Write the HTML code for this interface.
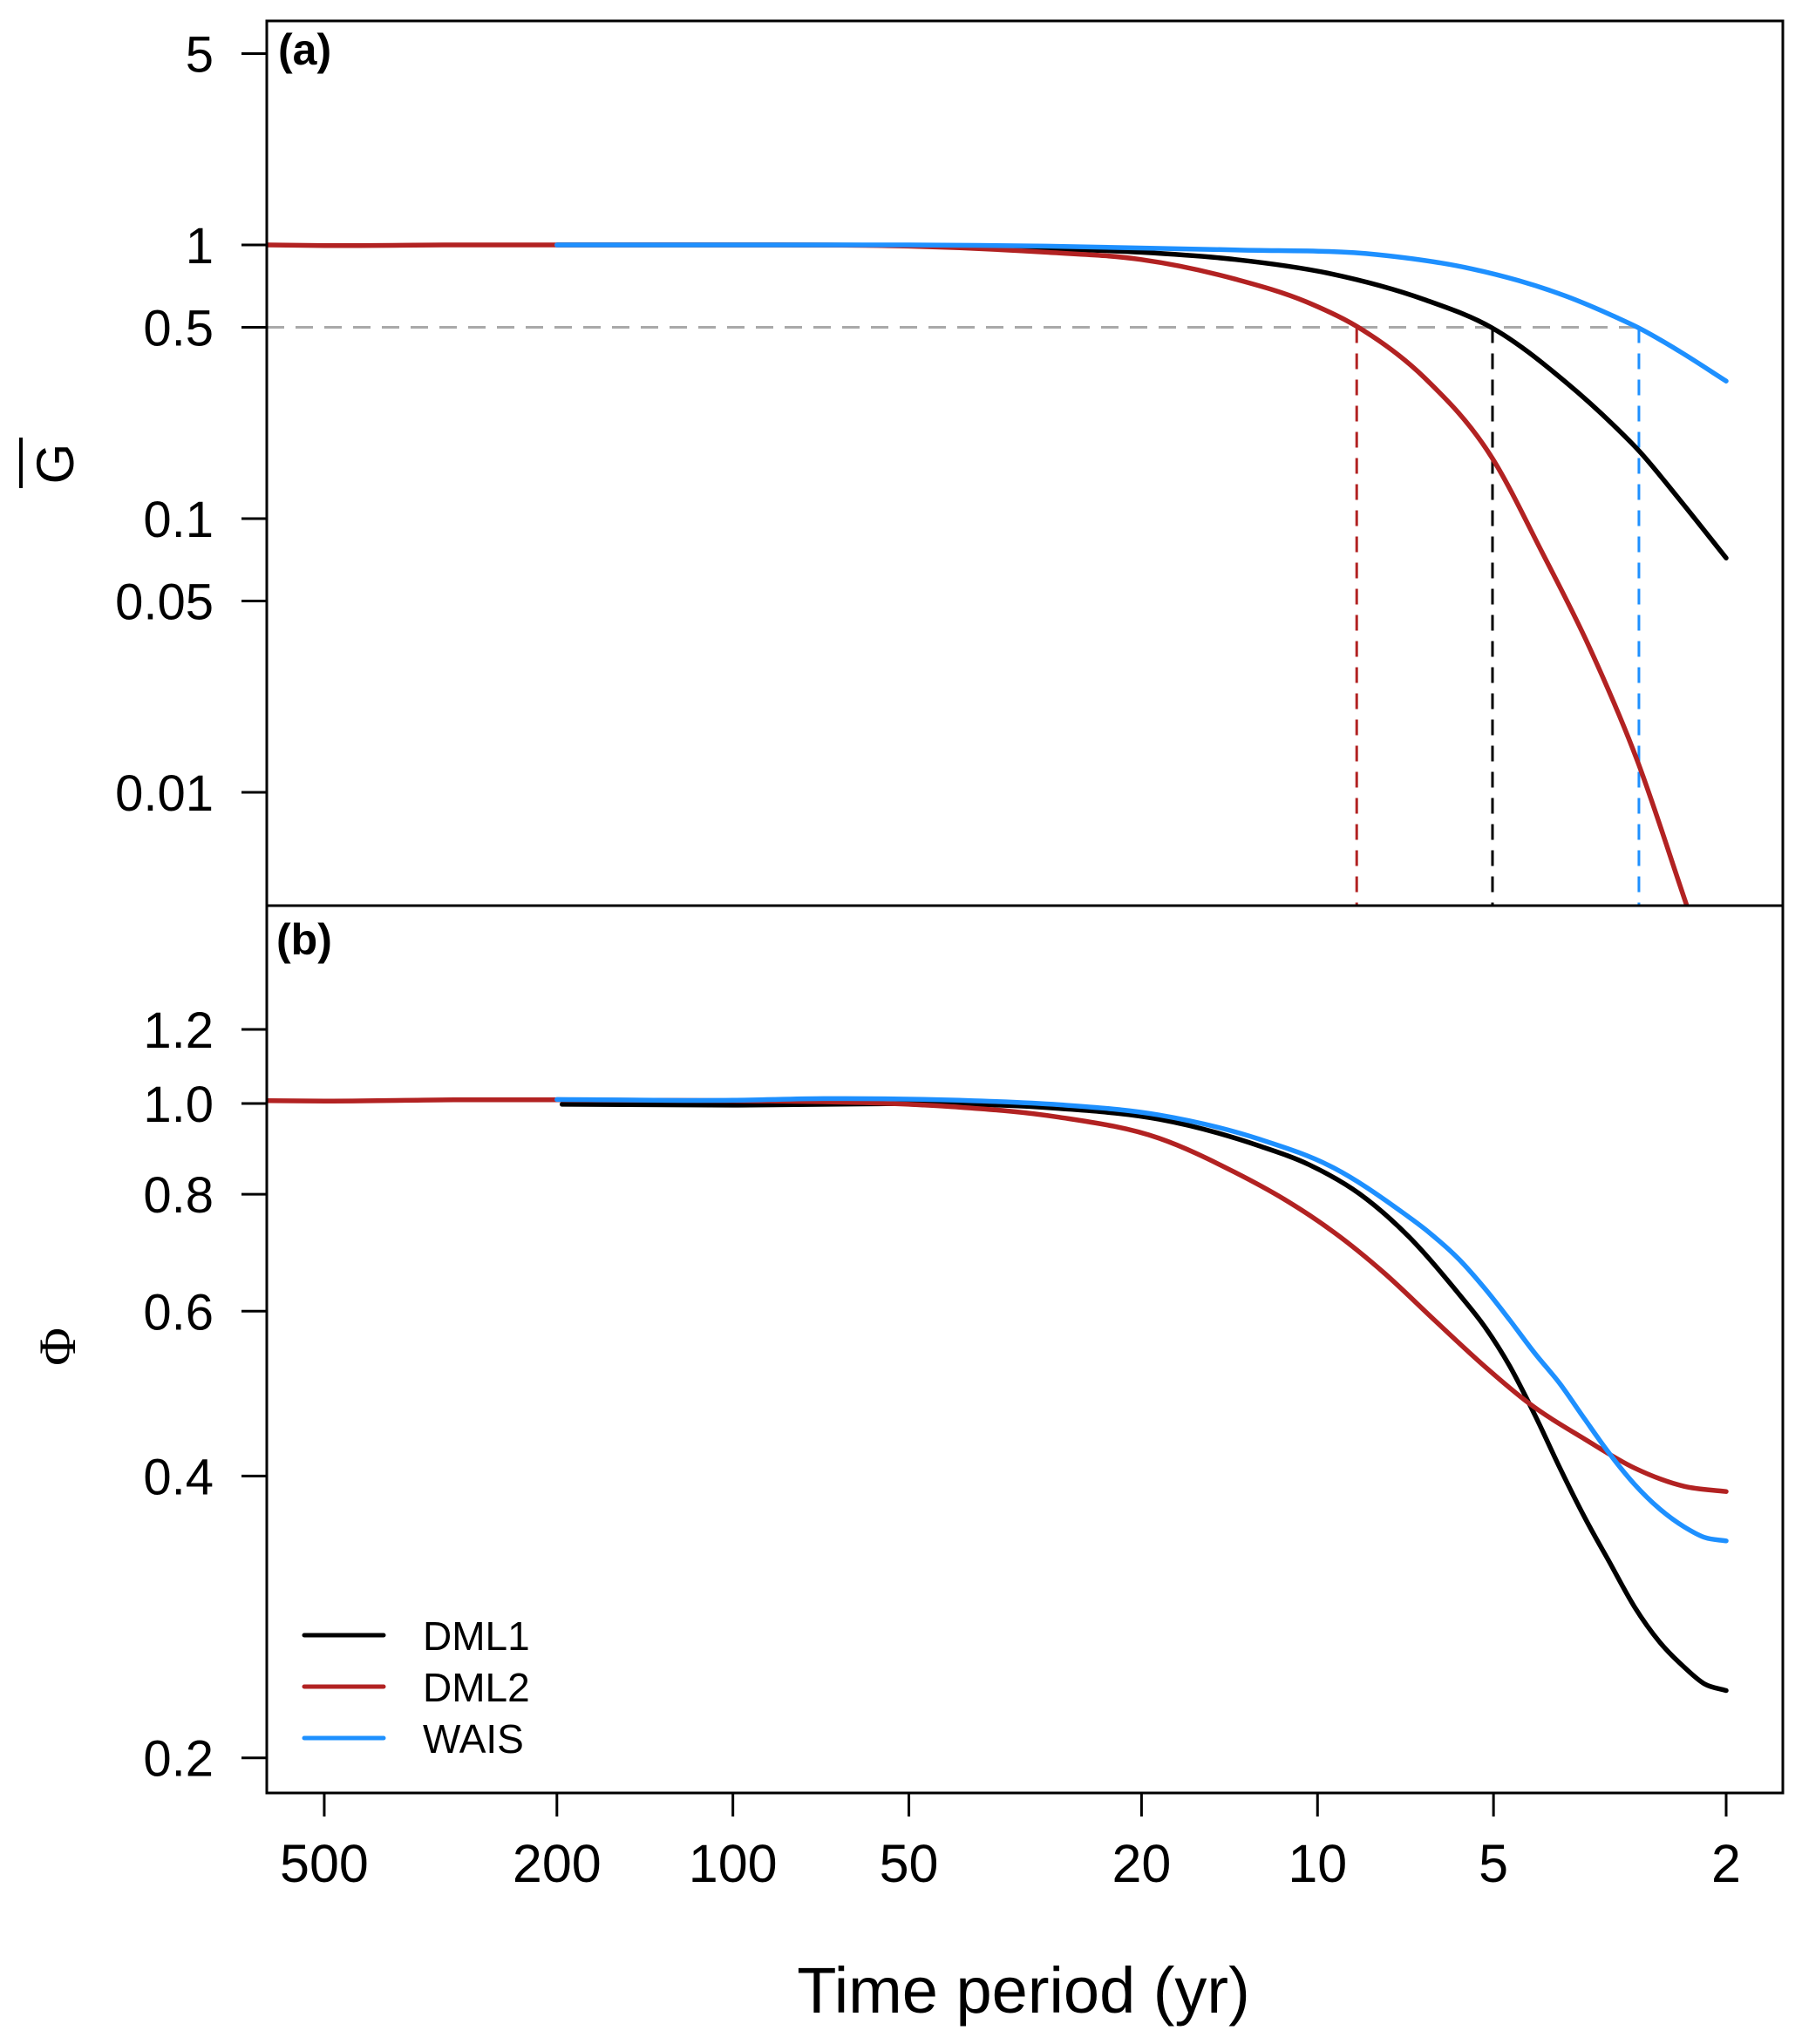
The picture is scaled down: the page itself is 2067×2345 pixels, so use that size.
<!DOCTYPE html>
<html><head><meta charset="utf-8"><style>
html,body{margin:0;padding:0;background:#fff}
svg{display:block;font-family:"Liberation Sans",Arial,sans-serif}
</style></head><body>
<svg id="chart" width="2067" height="2345" viewBox="0 0 2067 2345" xmlns="http://www.w3.org/2000/svg">
<defs>
<clipPath id="clipA"><rect x="306" y="24" width="1739" height="1015"/></clipPath>
<clipPath id="clipB"><rect x="306" y="1039" width="1739" height="1018"/></clipPath>
</defs>
<g id="plot"></g>
<text x="1174" y="2309" font-size="74" text-anchor="middle">Time period (yr)</text>
<text x="0" y="0" font-size="60" text-anchor="middle" transform="translate(84,532) rotate(-90)">G</text>
<line x1="24" y1="502" x2="24" y2="560" stroke="#000" stroke-width="4"/>
<text x="0" y="0" font-size="60" font-family="Liberation Serif,serif" text-anchor="middle" transform="translate(86,1545) rotate(-90)">Φ</text>
<text x="319" y="74" font-size="50" font-weight="bold">(a)</text>
<text x="317" y="1095" font-size="50" font-weight="bold">(b)</text>
</svg>
<script>
// x axis ticks
const xTicks = [500, 200, 100, 50, 20, 10, 5, 2];
// panel a ticks
const aTicks = [5, 1, 0.5, 0.1, 0.05, 0.01];
const aTickLabels = ["5", "1", "0.5", "0.1", "0.05", "0.01"];
// panel b ticks
const bTicks = [1.2, 1.0, 0.8, 0.6, 0.4, 0.2];
const bTickLabels = ["1.2", "1.0", "0.8", "0.6", "0.4", "0.2"];
// Panel a series (period T, G)
const aDML1T = [200, 100, 50, 29.1, 20.07, 13.83, 9.53, 6.57, 5.03, 3.76, 3.12, 2.82, 2.40, 2];
const aDML1V = [1.0, 1.0, 0.995, 0.970, 0.940, 0.885, 0.786, 0.632, 0.498, 0.315, 0.220, 0.177, 0.117, 0.0718];
const aDML2T = [627, 500, 300, 200, 100, 50, 29.1, 20.07, 13.83, 10.46, 8.57, 6.57, 5.03, 4.13, 3.43, 2.84, 2.34];
const aDML2V = [1.0, 0.995, 1.0, 1.0, 1.0, 0.99, 0.940, 0.885, 0.750, 0.620, 0.504, 0.328, 0.167, 0.0754, 0.034, 0.0131, 0.0039];
const aWAIST = [200, 100, 50, 29.1, 13.83, 7.91, 5.45, 4.53, 3.76, 3.12, 2.82, 2.40, 2];
const aWAISV = [1.0, 1.0, 1.0, 0.99, 0.959, 0.922, 0.818, 0.741, 0.650, 0.550, 0.497, 0.408, 0.318];
// half-power periods (vertical dashed markers)
const halfT = [8.57, 5.02, 2.82];
const halfColors = ["#b22222", "#000000", "#1e90ff"];
// Panel b series (period T, Phi)
const bDML1T = [196, 100, 60, 41, 27.7, 18.66, 12.58, 10.33, 8.48, 6.97, 5.72, 5.18, 4.69, 4.25, 3.85, 3.49, 3.17, 2.87, 2.60, 2.36, 2.18, 2];
const bDML1V = [0.998, 0.996, 0.999, 0.999, 0.988, 0.962, 0.901, 0.860, 0.801, 0.720, 0.625, 0.578, 0.524, 0.465, 0.408, 0.361, 0.324, 0.290, 0.266, 0.250, 0.240, 0.236];
const bDML2T = [627, 500, 300, 200, 100, 50, 41, 27.7, 18.66, 13.88, 11.40, 9.36, 7.69, 6.31, 5.18, 4.34, 3.49, 2.87, 2.36, 2];
const bDML2V = [1.007, 1.006, 1.009, 1.009, 1.007, 0.998, 0.991, 0.967, 0.918, 0.845, 0.790, 0.728, 0.659, 0.587, 0.524, 0.478, 0.438, 0.408, 0.390, 0.385];
const bWAIST = [200, 100, 70, 41, 27.7, 18.66, 12.58, 9.36, 7.24, 6.44, 5.72, 5.18, 4.69, 4.25, 3.85, 3.49, 3.17, 2.87, 2.60, 2.36, 2.18, 2];
const bWAISV = [1.01, 1.008, 1.012, 1.008, 0.997, 0.972, 0.916, 0.853, 0.769, 0.728, 0.681, 0.635, 0.587, 0.541, 0.502, 0.460, 0.423, 0.392, 0.369, 0.353, 0.344, 0.341];

const NS = "http://www.w3.org/2000/svg";
const svg = document.getElementById('plot');
const L = 306, R = 2045, AT = 24, AB = 1039, BT = 1039, BB = 2057;
function xs(t){ return 1980 - (Math.log10(t) - Math.log10(2)) * 670.6; }
function ya(v){ return 281 - Math.log10(v) * 314; }
function yb(v){ return 1266 - Math.log10(v) * 1074; }
function mk(tag, attrs){ const e = document.createElementNS(NS, tag); for (const k in attrs) e.setAttribute(k, attrs[k]); svg.appendChild(e); return e; }
// cubic Hermite path with three-point derivative tangents (x increasing)
function smooth(pts){
  const n = pts.length, dx = [], m = [], t = [];
  for (let i = 0; i < n-1; i++){ dx.push(pts[i+1][0]-pts[i][0]); m.push((pts[i+1][1]-pts[i][1])/dx[i]); }
  t.push(m[0]);
  for (let i = 1; i < n-1; i++) t.push((m[i-1]*dx[i] + m[i]*dx[i-1])/(dx[i-1]+dx[i]));
  t.push(m[n-2]);
  let d = "M" + pts[0][0].toFixed(1) + "," + pts[0][1].toFixed(1);
  for (let i = 0; i < n-1; i++){
    const h = dx[i]/3;
    d += "C" + (pts[i][0]+h).toFixed(1) + "," + (pts[i][1]+t[i]*h).toFixed(1) + " " + (pts[i+1][0]-h).toFixed(1) + "," + (pts[i+1][1]-t[i+1]*h).toFixed(1) + " " + pts[i+1][0].toFixed(1) + "," + pts[i+1][1].toFixed(1);
  }
  return d;
}
function series(T, V, yf, color, clip, name){
  const pts = T.map((t, i) => [xs(t), yf(V[i])]);
  const p = mk('path', {d: smooth(pts), fill: 'none', stroke: color, 'stroke-width': 5.5, 'stroke-linecap': 'round', 'stroke-linejoin': 'round', 'clip-path': 'url(#' + clip + ')'});
  
  
}
// half-power dashed lines (panel a)
const g05 = mk('line', {x1: L, y1: ya(0.5), x2: xs(halfT[2]), y2: ya(0.5), stroke: '#a9a9a9', 'stroke-width': 3, 'stroke-dasharray': '20,13'});


halfT.forEach((t, i) => {
  const l = mk('line', {x1: xs(t), y1: ya(0.5), x2: xs(t), y2: AB, stroke: halfColors[i], 'stroke-width': 3, 'stroke-dasharray': '18,12'});
  
  
});
// panel a curves
series(aDML1T, aDML1V, ya, '#000000', 'clipA', 'series-a-dml1');
series(aDML2T, aDML2V, ya, '#b22222', 'clipA', 'series-a-dml2');
series(aWAIST, aWAISV, ya, '#1e90ff', 'clipA', 'series-a-wais');
// panel b curves
series(bDML1T, bDML1V, yb, '#000000', 'clipB', 'series-b-dml1');
series(bDML2T, bDML2V, yb, '#b22222', 'clipB', 'series-b-dml2');
series(bWAIST, bWAISV, yb, '#1e90ff', 'clipB', 'series-b-wais');
// frames
const fa = mk('rect', {x: L, y: AT, width: R-L, height: AB-AT, fill: 'none', stroke: '#000', 'stroke-width': 3});


const fb = mk('rect', {x: L, y: BT, width: R-L, height: BB-BT, fill: 'none', stroke: '#000', 'stroke-width': 3});


// y ticks a
aTicks.forEach((v, i) => {
  const y = ya(v);
  const t = mk('line', {x1: 277, y1: y, x2: L, y2: y, stroke: '#000', 'stroke-width': 3});
  
  
  const tx = mk('text', {x: 245, y: y + 21, 'font-size': 58, 'text-anchor': 'end'});
  tx.textContent = aTickLabels[i];
  
  
});
bTicks.forEach((v, i) => {
  const y = yb(v);
  const t = mk('line', {x1: 277, y1: y, x2: L, y2: y, stroke: '#000', 'stroke-width': 3});
  
  
  const tx = mk('text', {x: 245, y: y + 21, 'font-size': 58, 'text-anchor': 'end'});
  tx.textContent = bTickLabels[i];
  
  
});
xTicks.forEach(v => {
  const x = xs(v);
  const t = mk('line', {x1: x, y1: BB, x2: x, y2: 2084, stroke: '#000', 'stroke-width': 3});
  
  
  const tx = mk('text', {x: x, y: 2159, 'font-size': 61, 'text-anchor': 'middle'});
  tx.textContent = String(v);
  
  
});
// legend
const legNames = ["DML1", "DML2", "WAIS"];
const legColors = ["#000000", "#b22222", "#1e90ff"];
const legY = [1876, 1935, 1994];
legNames.forEach((n, i) => {
  const l = mk('line', {x1: 349, y1: legY[i], x2: 440, y2: legY[i], stroke: legColors[i], 'stroke-width': 5, 'stroke-linecap': 'round'});
  
  
  const tx = mk('text', {x: 485, y: legY[i] + 17, 'font-size': 46});
  tx.textContent = n;
  
  
});
</script>
</body></html>
